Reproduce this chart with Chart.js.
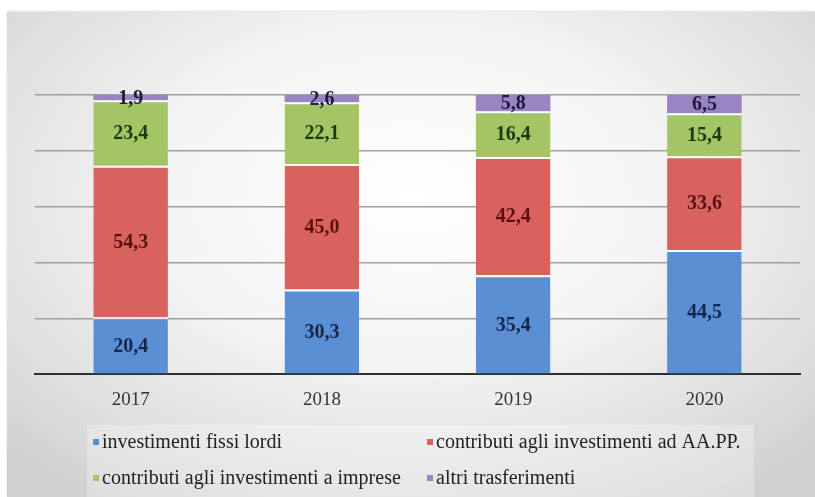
<!DOCTYPE html>
<html>
<head>
<meta charset="utf-8">
<script src="https://cdn.jsdelivr.net/npm/chart.js@4.4.1/dist/chart.umd.min.js"></script>
<style>
  html, body { margin: 0; padding: 0; background: #fff; }
  body { width: 815px; height: 497px; position: relative; overflow: hidden; }
  #frame {
    position: absolute; left: 7px; top: 12px; width: 808px; height: 485px;
    background: radial-gradient(ellipse 70% 75% at 50% 38%, #ffffff 0%, #f4f4f4 45%, #dcdcdc 85%, #d0d0d0 100%);
    box-shadow: 0 -1px 2px rgba(0,0,0,0.12);
  }
  #frame canvas { position: absolute; left: 0; top: 0; }
</style>
</head>
<body>
<div id="frame"><canvas id="quoteChart" width="808" height="485"></canvas></div>
<script>
// Composizione percentuale della spesa per anno
const anni = ['2017', '2018', '2019', '2020'];
const investimentiFissi = [20.4, 30.3, 35.4, 44.5];
const contributiAAPP = [54.3, 45.0, 42.4, 33.6];
const contributiImprese = [23.4, 22.1, 16.4, 15.4];
const altriTrasferimenti = [1.9, 2.6, 5.8, 6.5];
const yTicks = [0, 20, 40, 60, 80, 100];

const SERIF = '"Liberation Serif", "Times New Roman", serif';

function serie(label, data, color, textColor, sep) {
  return {
    label: label,
    data: data,
    backgroundColor: color,
    borderColor: 'rgba(255,255,255,0.75)',
    borderWidth: sep ? { top: 2, left: 0, right: 0, bottom: 0 } : 0,
    borderSkipped: false,
    textColor: textColor,
    barPercentage: 0.39,
    categoryPercentage: 1.0
  };
}

// etichette dei valori al centro di ogni segmento
const valueLabels = {
  id: 'valueLabels',
  afterDatasetsDraw(chart) {
    const c = chart.ctx;
    c.save();
    c.font = 'bold 20px ' + SERIF;
    c.textAlign = 'center';
    c.textBaseline = 'middle';
    chart.data.datasets.forEach((ds, i) => {
      chart.getDatasetMeta(i).data.forEach((bar, j) => {
        const v = ds.data[j];
        c.fillStyle = ds.textColor;
        c.fillText(v.toFixed(1).replace('.', ','), bar.x, (bar.y + bar.base) / 2 + 1);
      });
    });
    c.restore();
  }
};

// legenda su due colonne in basso
const boxLegend = {
  id: 'boxLegend',
  afterDraw(chart) {
    const c = chart.ctx;
    c.save();
    c.fillStyle = 'rgba(255,255,255,0.28)';
    c.fillRect(80, 413, 667, 80);
    const cols = [86, 420];
    const rows = [430, 466];
    c.font = '20px ' + SERIF;
    c.textBaseline = 'middle';
    chart.data.datasets.forEach((ds, i) => {
      const x = cols[i % 2];
      const y = rows[Math.floor(i / 2)];
      c.fillStyle = ds.backgroundColor;
      c.fillRect(x, y - 3, 6, 6);
      c.fillStyle = '#222';
      c.fillText(ds.label, x + 9, y + 1);
    });
    c.restore();
  }
};

new Chart(document.getElementById('quoteChart'), {
  type: 'bar',
  data: {
    labels: anni,
    datasets: [
      serie('investimenti fissi lordi', investimentiFissi, '#5b8fd4', '#14264a', true),
      serie('contributi agli investimenti ad AA.PP.', contributiAAPP, '#d9625f', '#5a1010', true),
      serie('contributi agli investimenti a imprese', contributiImprese, '#a3c566', '#1d3a0e', true),
      serie('altri trasferimenti', altriTrasferimenti, '#9a84c3', '#1c1c3c', false)
    ]
  },
  options: {
    responsive: false,
    animation: false,
    layout: { padding: { left: 28, right: 15, top: 83, bottom: 80 } },
    plugins: {
      legend: { display: false },
      tooltip: { enabled: false }
    },
    scales: {
      x: {
        stacked: true,
        grid: { display: false },
        border: { display: true, color: '#2e2e2e', width: 2 },
        ticks: { color: '#333', font: { family: SERIF, size: 19 }, padding: 6 }
      },
      y: {
        stacked: true,
        min: 0,
        max: 100,
        afterBuildTicks: (axis) => { axis.ticks = yTicks.map(v => ({ value: v })); },
        grid: { color: '#a0a0a0', lineWidth: 1.5, drawTicks: false },
        border: { display: false },
        ticks: { display: false }
      }
    }
  },
  plugins: [valueLabels, boxLegend]
});
</script>
</body>
</html>
